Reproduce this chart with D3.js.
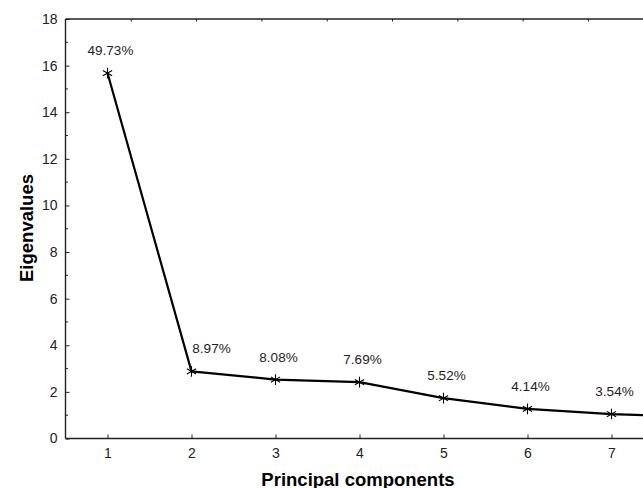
<!DOCTYPE html>
<html>
<head>
<meta charset="utf-8">
<script src="https://cdn.jsdelivr.net/npm/d3@7"></script>
<style>
  html, body { margin: 0; padding: 0; background: #fff; overflow: hidden; }
  svg { display: block; }
  svg text { font-family: "Liberation Sans", Arial, sans-serif; }
  .tick text { fill: #222; font-size: 14px; }
  .pct { fill: #222; font-size: 13.5px; }
  .title { fill: #000; font-size: 18.5px; font-weight: bold; }
</style>
</head>
<body>
<div id="chart"></div>
<script>
// data
const components = [1, 2, 3, 4, 5, 6, 7, 8];
const eigenvalues = [15.68, 2.88, 2.53, 2.42, 1.73, 1.27, 1.05, 0.92];
// the 8th component runs off the right edge, only its line is visible
const percentages = ['49.73%', '8.97%', '8.08%', '7.69%', '5.52%', '4.14%', '3.54%'];
const yTicks = [0, 2, 4, 6, 8, 10, 12, 14, 16, 18];
const xTicks = [1, 2, 3, 4, 5, 6, 7];

// dimensions
const WIDTH = 643;
const HEIGHT = 488;
const MARGIN_LEFT = 65.5;
const MARGIN_TOP = 19;
const PLOT_BOTTOM = 438.5;
const STEP = 84;

const $svg = d3.select('#chart').append('svg')
  .attr('width', WIDTH)
  .attr('height', HEIGHT);

// scales (plot runs past the right edge of the picture)
const scaleX = d3.scaleLinear()
  .domain([0.5, 8.5])
  .range([MARGIN_LEFT, MARGIN_LEFT + 8 * STEP]);
const scaleY = d3.scaleLinear()
  .domain([0, 18])
  .range([PLOT_BOTTOM, MARGIN_TOP]);
// the top frame carries its own tick spacing
const scaleTop = d3.scaleLinear()
  .domain([0, 10])
  .range([MARGIN_LEFT, MARGIN_LEFT + 10 * 65.3]);

const axisColor = '#222';

// left axis, major ticks inward
const $left = $svg.append('g')
  .attr('transform', `translate(${MARGIN_LEFT},0)`)
  .call(d3.axisLeft(scaleY).tickValues(yTicks).tickSizeInner(-4).tickSizeOuter(0).tickPadding(8));
// minor ticks on the left
$left.selectAll('.minor')
  .data(d3.range(1, 18, 2))
  .join('line')
  .attr('class', 'minor')
  .attr('x1', 0).attr('x2', 2.5)
  .attr('y1', (d) => scaleY(d)).attr('y2', (d) => scaleY(d));

// bottom axis
const $bottom = $svg.append('g')
  .attr('transform', `translate(0,${PLOT_BOTTOM})`)
  .call(d3.axisBottom(scaleX).tickValues(xTicks).tickFormat(d3.format('d'))
    .tickSizeInner(-4).tickSizeOuter(0).tickPadding(9.5));

// top frame
const $top = $svg.append('g')
  .attr('transform', `translate(0,${MARGIN_TOP})`)
  .call(d3.axisTop(scaleTop).tickValues(d3.range(1, 9)).tickSizeInner(-2.5).tickSizeOuter(0).tickFormat(''));

[$left, $bottom, $top].forEach(($g) => {
  $g.attr('font-family', null).attr('font-size', null);
  $g.select('.domain').attr('stroke', axisColor).attr('stroke-width', 1.4);
  $g.selectAll('.tick line, .minor').attr('stroke', axisColor).attr('stroke-width', 1);
});
$left.select('.domain').attr('d', `M0,${PLOT_BOTTOM}V${MARGIN_TOP}`);
$bottom.select('.domain').attr('d', `M${MARGIN_LEFT},0H${WIDTH}`);
$top.select('.domain').attr('d', `M${MARGIN_LEFT},0H${WIDTH}`);

// line
const pts = components.map((c, i) => ({ c, v: eigenvalues[i], p: percentages[i] }));
const line = d3.line().x((d) => scaleX(d.c)).y((d) => scaleY(d.v));

$svg.append('path')
  .datum(pts)
  .attr('fill', 'none')
  .attr('stroke', '#000')
  .attr('stroke-width', 2.2)
  .attr('stroke-linejoin', 'round')
  .attr('d', line);

// asterisk markers
const marker = d3.symbol().type(d3.symbolAsterisk).size(80);
$svg.append('g')
  .selectAll('path')
  .data(pts.filter((d) => d.p))
  .join('path')
  .attr('transform', (d) => `translate(${scaleX(d.c)},${scaleY(d.v)})`)
  .attr('d', marker)
  .attr('fill', 'none')
  .attr('stroke', '#000')
  .attr('stroke-width', 1.1);

// percentage labels, shifted right where the incoming segment is steep
$svg.append('g')
  .selectAll('text')
  .data(pts.filter((d) => d.p))
  .join('text')
  .attr('class', 'pct')
  .attr('text-anchor', 'middle')
  .attr('x', (d, i) => scaleX(d.c) + (i > 0 && eigenvalues[i - 1] - d.v > 5 ? 20 : 3))
  .attr('y', (d) => scaleY(d.v) - 18)
  .text((d) => d.p);

// titles
$svg.append('text')
  .attr('class', 'title')
  .attr('text-anchor', 'middle')
  .attr('transform', 'translate(33,228) rotate(-90)')
  .text('Eigenvalues');

$svg.append('text')
  .attr('class', 'title')
  .attr('text-anchor', 'middle')
  .attr('x', 358)
  .attr('y', 486)
  .text('Principal components');
</script>
</body>
</html>
